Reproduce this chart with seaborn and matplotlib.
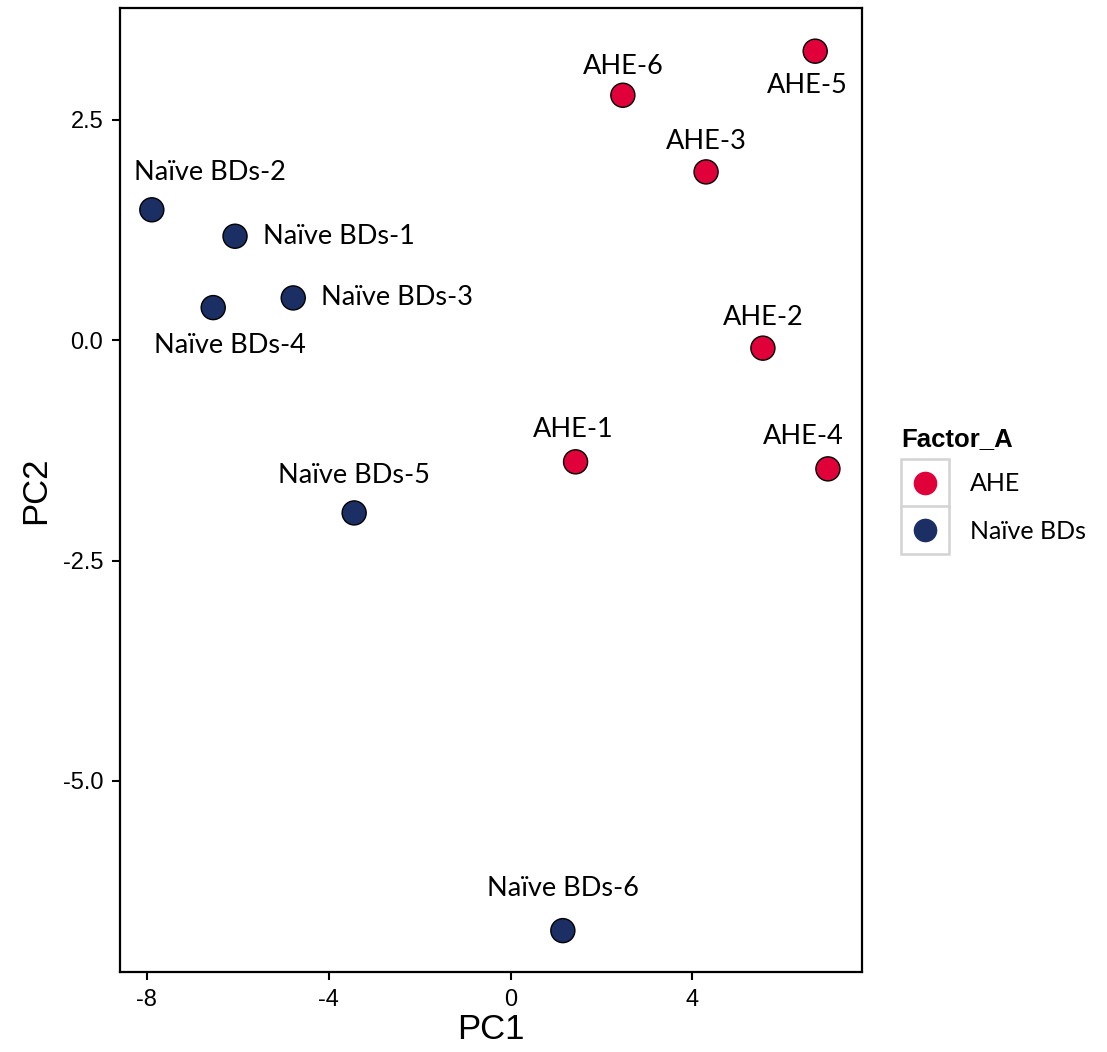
import numpy as np
import pandas as pd
import matplotlib
matplotlib.use("Agg")
import matplotlib.pyplot as plt
from matplotlib.lines import Line2D
from matplotlib.legend_handler import HandlerTuple
import seaborn as sns

# PCA scores
samples = ['AHE-1', 'AHE-2', 'AHE-3', 'AHE-4', 'AHE-5', 'AHE-6',
           'Naïve BDs-1', 'Naïve BDs-2', 'Naïve BDs-3', 'Naïve BDs-4', 'Naïve BDs-5', 'Naïve BDs-6']
groups = ['AHE'] * 6 + ['Naïve BDs'] * 6
pc1 = [1.43, 5.55, 4.30, 6.98, 6.70, 2.47,
       -6.06, -7.89, -4.78, -6.54, -3.44, 1.15]
pc2 = [-1.38, -0.09, 1.91, -1.46, 3.28, 2.78,
       1.18, 1.48, 0.48, 0.37, -1.96, -6.70]
x_ticks = [-8, -4, 0, 4]
y_ticks = [-5.0, -2.5, 0.0, 2.5]

df = pd.DataFrame({'sample': samples, 'Factor_A': groups, 'PC1': pc1, 'PC2': pc2})

colors = {'AHE': '#E0003A', 'Naïve BDs': '#1B2F64'}

# label offsets (points) and alignment per sample
label_pos = {
    'AHE-1': (-2, 23, 'center'), 'AHE-2': (0, 22, 'center'), 'AHE-3': (0, 22, 'center'),
    'AHE-4': (-18, 23, 'center'), 'AHE-5': (-6, -25, 'center'), 'AHE-6': (0, 21, 'center'),
    'Naïve BDs-1': (20, 0, 'left'), 'Naïve BDs-2': (42, 27, 'center'),
    'Naïve BDs-3': (20, 0, 'left'), 'Naïve BDs-4': (12, -27, 'center'),
    'Naïve BDs-5': (0, 27, 'center'), 'Naïve BDs-6': (0, 30, 'center'),
}

sns.set_theme(style="ticks")
plt.rcParams['font.family'] = ['Liberation Sans', 'DejaVu Sans']
plt.rcParams['text.color'] = 'black'
plt.rcParams['axes.labelcolor'] = 'black'
label_font = ['Lato', 'DejaVu Sans']
narrow_font = ['Liberation Sans Narrow', 'Liberation Sans', 'DejaVu Sans']

fig = plt.figure(figsize=(11.07, 10.52), dpi=100)
ax = fig.add_axes([0.1084, 0.076, 0.6703, 0.9164])

sns.scatterplot(data=df, x='PC1', y='PC2', hue='Factor_A', palette=colors,
                s=300, edgecolor='black', linewidth=1, legend=False, ax=ax, zorder=3)

for _, row in df.iterrows():
    dx, dy, ha = label_pos[row['sample']]
    ax.annotate(row['sample'], (row['PC1'], row['PC2']), xytext=(dx, dy),
                textcoords='offset points', ha=ha, va='center',
                fontsize=19.5, family=label_font, color='black')

ax.set_xlim(-8.59, 7.73)
ax.set_ylim(-7.17, 3.77)
ax.set_xticks(x_ticks)
ax.set_xticklabels([str(t) for t in x_ticks], family=narrow_font, fontsize=17)
ax.set_yticks(y_ticks)
ax.set_yticklabels([f"{t:.1f}" for t in y_ticks], family=narrow_font, fontsize=17)
ax.set_xlabel('PC1', family=narrow_font, fontsize=25, labelpad=2, color='black')
ax.set_ylabel('PC2', family=narrow_font, fontsize=25, labelpad=8, color='black')
ax.tick_params(direction='out', length=6, width=1.5, color='black', labelcolor='black', pad=6)
for sp in ax.spines.values():
    sp.set_linewidth(1.6)
    sp.set_color('black')

# legend in ggplot style: grey boxed keys
handles = []
for g in ['AHE', 'Naïve BDs']:
    box = Line2D([], [], marker='s', ms=34, mfc='white', mec='#d3d3d3', mew=1.8, ls='')
    dot = Line2D([], [], marker='o', ms=16, mfc=colors[g], mec=colors[g], ls='')
    handles.append((box, dot))
leg = fig.legend(handles, ['AHE', 'Naïve BDs'], title='Factor_A',
                 handler_map={tuple: HandlerTuple(ndivide=1)},
                 loc='upper left', bbox_to_anchor=(0.803, 1 - 415 / 1052),
                 frameon=False, prop={'family': label_font, 'size': 18},
                 handlelength=1.9, handleheight=0.7, labelspacing=0.98,
                 handletextpad=0.85, borderpad=0, alignment='left')
leg._legend_box.sep = 15
leg.get_title().set_fontsize(18.5)
leg.get_title().set_fontweight('bold')
leg.get_title().set_family(['Liberation Sans', 'DejaVu Sans'])
leg.get_title().set_color('black')
for t in leg.get_texts():
    t.set_color('black')

fig.savefig('out.png', dpi=100, facecolor='white')
